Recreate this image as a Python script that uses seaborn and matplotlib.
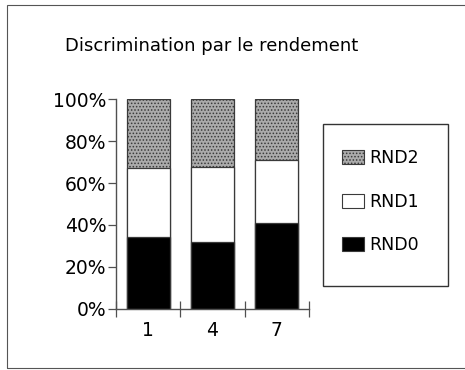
import matplotlib
matplotlib.use("Agg")
import matplotlib.pyplot as plt
from matplotlib.patches import Rectangle, Patch
from matplotlib.ticker import FixedLocator, PercentFormatter
import seaborn as sns
import pandas as pd

categories = ["1", "4", "7"]
rnd0 = [34.3, 31.7, 41.1]
rnd1 = [32.8, 35.8, 29.9]
rnd2 = [32.9, 32.5, 29.0]
title = "Discrimination par le rendement"

sns.set_style("white")
plt.rcParams["font.family"] = ["DejaVu Sans"]
plt.rcParams["text.color"] = "black"
plt.rcParams["xtick.color"] = "black"
plt.rcParams["ytick.color"] = "black"
plt.rcParams["hatch.color"] = "#6a6a6a"
plt.rcParams["hatch.linewidth"] = 0.7

W, H = 465, 370
fig = plt.figure(figsize=(W / 100, H / 100), dpi=100)
ax = fig.add_axes([0.2495, 0.1649, 0.415, 0.5675])

df = pd.DataFrame({"cat": categories, "RND0": rnd0, "RND1": rnd1, "RND2": rnd2})
df["top1"] = df["RND0"] + df["RND1"]
df["top2"] = df["top1"] + df["RND2"]

edge = "#3a3a3a"
gray = "#ababab"
sns.barplot(data=df, x="cat", y="top2", color=gray, width=0.67, ax=ax,
            edgecolor=edge, linewidth=0.9, hatch=".....", saturation=1)
sns.barplot(data=df, x="cat", y="top1", color="white", width=0.67, ax=ax,
            edgecolor=edge, linewidth=0.9, saturation=1)
sns.barplot(data=df, x="cat", y="RND0", color="black", width=0.67, ax=ax,
            edgecolor=edge, linewidth=0.9, saturation=1)

ax.set_xlim(-0.5, 2.5)
ax.set_ylim(0, 100)
ax.set_xlabel("")
ax.set_ylabel("")
for s in ["top", "right"]:
    ax.spines[s].set_visible(False)
for s in ["left", "bottom"]:
    ax.spines[s].set_color("#505050")
    ax.spines[s].set_linewidth(1.0)

ax.yaxis.set_major_locator(FixedLocator([0, 20, 40, 60, 80, 100]))
ax.yaxis.set_major_formatter(PercentFormatter(decimals=0))
ax.tick_params(axis="y", direction="out", length=6, width=0.9, color="#505050",
               labelcolor="black", labelsize=13.5, pad=1, left=True)
ax.tick_params(axis="x", which="major", length=0, labelcolor="black",
               labelsize=13.5, pad=9)
ax.set_xticks([-0.5, 0.5, 1.5, 2.5], minor=True)
ax.tick_params(axis="x", which="minor", direction="inout", length=11, width=0.9,
               color="#505050", bottom=True)

fig.text(0.14, 0.875, title, fontsize=13, ha="left", va="center", color="black")

# legend entries, boxed by a separate frame
handles = [Patch(facecolor=gray, edgecolor=edge, hatch=".....", linewidth=0.8, label="RND2"),
           Patch(facecolor="white", edgecolor=edge, linewidth=0.8, label="RND1"),
           Patch(facecolor="black", edgecolor=edge, linewidth=0.8, label="RND0")]
leg = fig.legend(handles=handles, loc="upper left", bbox_to_anchor=(342 / W, 1 - 149 / H),
                 frameon=False, fontsize=12.5, handlelength=1.25,
                 handleheight=0.85, labelspacing=1.48, borderpad=0, handletextpad=0.3,
                 borderaxespad=0)
for t in leg.get_texts():
    t.set_color("black")
fig.patches.append(Rectangle((323 / W, 1 - 286 / H), 125 / W, 162 / H,
                             transform=fig.transFigure, fill=False,
                             edgecolor="#333333", linewidth=1.0))

# outer border of the figure, open on the right
fig.patches.append(Rectangle((7 / W, 2 / H), 1.2, 363 / H, transform=fig.transFigure,
                             fill=False, edgecolor="#555555", linewidth=0.8))

fig.savefig("out.png", dpi=100)
